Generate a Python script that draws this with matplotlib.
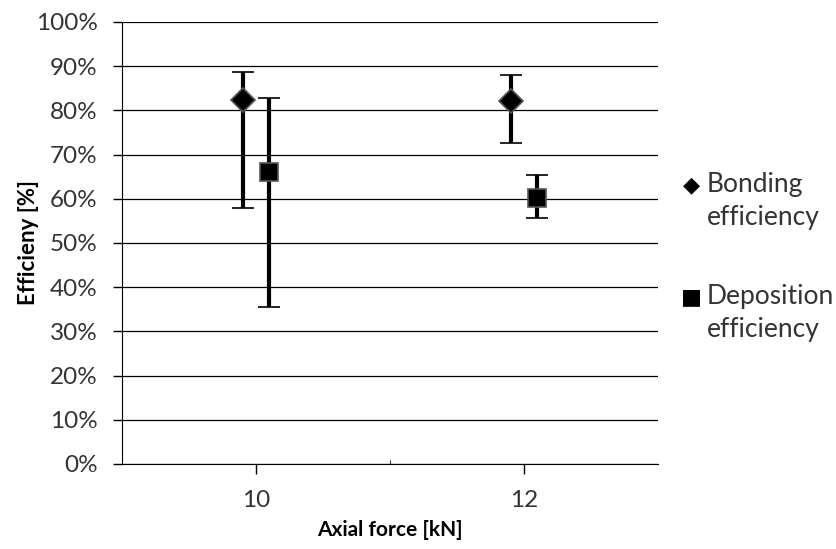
import matplotlib
matplotlib.use("Agg")
import matplotlib.pyplot as plt
from matplotlib.ticker import PercentFormatter

plt.rcParams['font.family'] = ['Lato', 'DejaVu Sans']

# data
force = [10, 12]
offset = 0.1
bond_eff = [82.3, 82.2]
bond_lo = [58.0, 72.6]
bond_hi = [88.7, 88.0]
dep_eff = [66.1, 60.1]
dep_lo = [35.6, 55.6]
dep_hi = [82.8, 65.4]
labels = ['Bonding\nefficiency', 'Deposition\nefficiency']

fig = plt.figure(figsize=(8.36, 5.49), dpi=100)
ax = fig.add_axes([0.146, 0.155, 0.641, 0.805])

bx = [f - offset for f in force]
dx = [f + offset for f in force]
berr = [[e - l for e, l in zip(bond_eff, bond_lo)], [h - e for e, h in zip(bond_eff, bond_hi)]]
derr = [[e - l for e, l in zip(dep_eff, dep_lo)], [h - e for e, h in zip(dep_eff, dep_hi)]]

ax.errorbar(bx, bond_eff, yerr=berr, fmt='D', color='black', ms=12,
            mec='#555555', mew=1.2, elinewidth=3, capsize=8, capthick=3,
            zorder=3)
ax.errorbar(dx, dep_eff, yerr=derr, fmt='s', color='black', ms=13,
            mec='#555555', mew=1.2, elinewidth=3, capsize=8, capthick=3,
            zorder=3)

ax.set_xlim(9, 13)
ax.set_ylim(0, 100)
ax.set_yticks(range(0, 101, 10))
ax.yaxis.set_major_formatter(PercentFormatter(decimals=0))
ax.set_xticks(force)
ax.set_xticks([11], minor=True)
ax.tick_params(axis='x', which='minor', direction='in', length=3)
ax.tick_params(axis='y', which='major', length=6.5, width=1, labelsize=17.5,
               labelcolor='#333333', pad=11)
ax.tick_params(axis='x', which='major', length=7, width=1, labelsize=17.5,
               labelcolor='#333333', pad=12)
ax.grid(axis='y', color='black', linewidth=0.9)
ax.set_axisbelow(True)
for s in ['top', 'right']:
    ax.spines[s].set_visible(False)

ax.set_xlabel('Axial force [kN]', fontsize=15, fontweight='bold', labelpad=6)
ax.set_ylabel('Efficieny [%]', fontsize=16, fontweight='bold', labelpad=-2)

# legend drawn as text, markers next to the first line like the original
fig.text(0.827, 1 - 185 / 549, '\u25C6', family='DejaVu Sans', fontsize=16,
         ha='center', va='center')
fig.text(0.827, 1 - 297 / 549, '\u25A0', family='DejaVu Sans', fontsize=16,
         ha='center', va='center')
fig.text(0.845, 1 - 172 / 549, labels[0], fontsize=19, color='#333333',
         va='top', linespacing=1.4)
fig.text(0.845, 1 - 284 / 549, labels[1], fontsize=19, color='#333333',
         va='top', linespacing=1.4)

fig.savefig('out.png', dpi=100)
